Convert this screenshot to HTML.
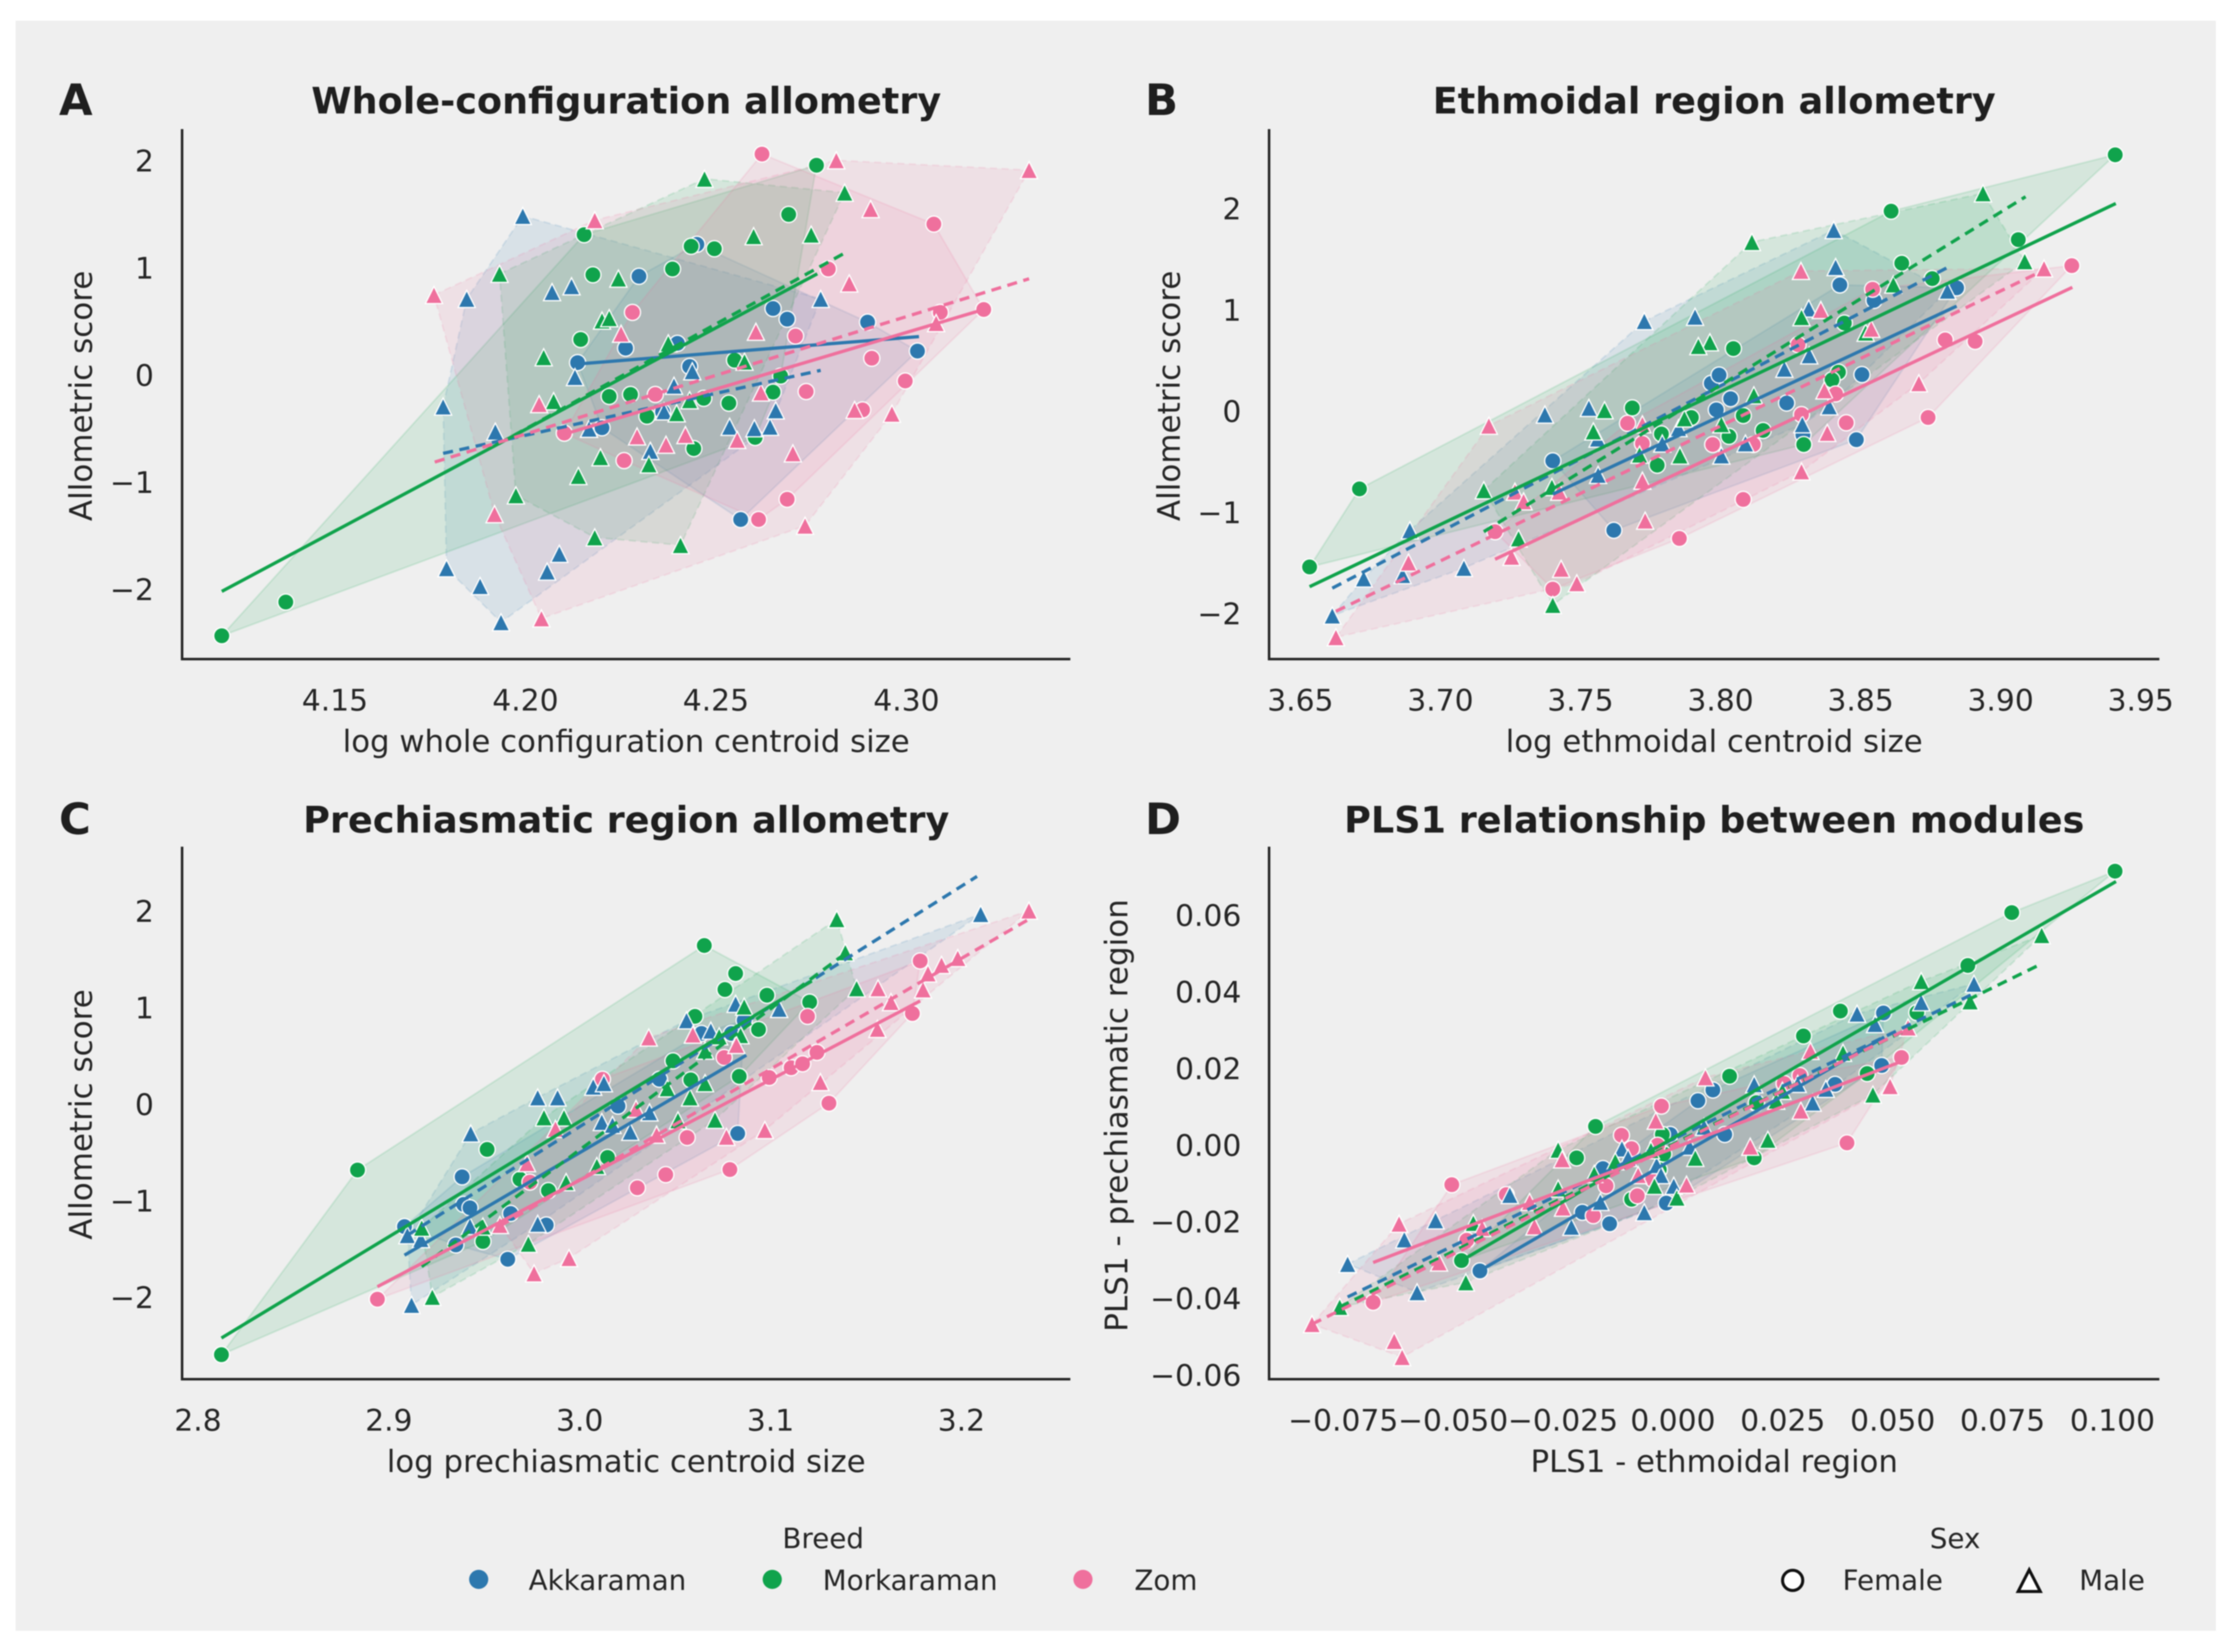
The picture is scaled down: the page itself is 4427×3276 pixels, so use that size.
<!DOCTYPE html>
<html lang="en">
<head>
<meta charset="utf-8">
<title>Allometry figure</title>
<style>
html,body{margin:0;padding:0;background:#fff;width:4427px;height:3276px;overflow:hidden}
svg{display:block;filter:blur(1px)}
text{font-family:"DejaVu Sans","Liberation Sans",sans-serif;fill:#262626}
</style>
</head>
<body>
<svg id="figure" xmlns="http://www.w3.org/2000/svg" width="4427" height="3276" viewBox="0 0 4427 3276">
<rect x="31" y="41" width="4362" height="3193" fill="#efefef"/>
<g id="panels"></g>
<g>
  <text x="1632" y="3070" font-size="55" text-anchor="middle">Breed</text>
  <circle cx="949" cy="3132" r="19" fill="#2d78ae"/>
  <text x="1048" y="3153" font-size="55">Akkaraman</text>
  <circle cx="1531" cy="3132" r="19" fill="#10a34c"/>
  <text x="1631" y="3153" font-size="55">Morkaraman</text>
  <circle cx="2147" cy="3132" r="19" fill="#ef709d"/>
  <text x="2249" y="3153" font-size="55">Zom</text>
</g>
<g>
  <text x="3876" y="3070" font-size="55" text-anchor="middle">Sex</text>
  <circle cx="3554" cy="3134" r="20" fill="#fff" stroke="#111" stroke-width="6"/>
  <text x="3653" y="3153" font-size="55">Female</text>
  <polygon points="4023,3113 4045,3156 4001,3156" fill="#fff" stroke="#111" stroke-width="6"/>
  <text x="4122" y="3153" font-size="55">Male</text>
</g>
</svg>
<script>
/* ---------- Tick labels ---------- */
const a_x_ticks=[4.15,4.20,4.25,4.30];
const a_y_ticks=[-2,-1,0,1,2];
const b_x_ticks=[3.65,3.70,3.75,3.80,3.85,3.90,3.95];
const b_y_ticks=[-2,-1,0,1,2];
const c_x_ticks=[2.8,2.9,3.0,3.1,3.2];
const c_y_ticks=[-2,-1,0,1,2];
const d_x_ticks=[-0.075,-0.05,-0.025,0,0.025,0.05,0.075,0.1];
const d_y_ticks=[-0.06,-0.04,-0.02,0,0.02,0.04,0.06];

/* ---------- Panel A ---------- */
const a_akk_f_x=[4.2137,4.2263,4.2298,4.2399,4.2431,4.2450,4.2360,4.2201,4.2650,4.2687,4.2898,4.3029,4.2565];
const a_akk_f_y=[0.117,0.252,0.923,0.297,0.081,1.221,-0.342,-0.491,0.622,0.523,0.495,0.225,-1.347];
const a_akk_m_x=[4.1993,4.1846,4.2070,4.2121,4.2130,4.1784,4.1921,4.2167,4.2438,4.2390,4.2364,4.2328,4.2536,4.2601,4.2642,4.2657,4.2775,4.1793,4.1881,4.1936,4.2057,4.2089];
const a_akk_m_y=[1.486,0.712,0.775,0.829,-0.018,-0.293,-0.527,-0.50,0.036,-0.099,-0.338,-0.707,-0.482,-0.495,-0.482,-0.329,0.712,-1.802,-1.968,-2.306,-1.833,-1.667];
const a_mor_f_x=[4.1203,4.1371,4.2154,4.2177,4.2145,4.2386,4.2435,4.2496,4.2691,4.2764,4.2220,4.2276,4.2319,4.2468,4.2534,4.2549,4.2670,4.2650,4.2603,4.2442];
const a_mor_f_y=[-2.432,-2.117,1.311,0.937,0.333,0.991,1.203,1.180,1.5,1.959,-0.198,-0.18,-0.383,-0.216,-0.261,0.14,-0.009,-0.158,-0.581,-0.685];
const a_mor_m_x=[4.2470,4.2838,4.1932,4.2244,4.2599,4.2750,4.2201,4.2220,4.2048,4.2375,4.2575,4.2074,4.2397,4.2431,4.2197,4.2324,4.2139,4.1975,4.2182,4.2407];
const a_mor_m_y=[1.833,1.703,0.946,0.901,1.297,1.311,0.509,0.532,0.167,0.297,0.126,-0.243,-0.356,-0.234,-0.766,-0.833,-0.941,-1.122,-1.514,-1.586];
const a_zom_f_x=[4.2621,4.3072,4.2795,4.2281,4.2709,4.3089,4.3203,4.2909,4.2997,4.2737,4.2885,4.2102,4.2341,4.2259,4.2687,4.2612];
const a_zom_f_y=[2.063,1.41,0.991,0.586,0.365,0.586,0.613,0.158,-0.054,-0.153,-0.324,-0.541,-0.18,-0.797,-1.158,-1.347];
const a_zom_m_x=[4.2816,4.3322,4.2906,4.2182,4.2850,4.1760,4.2605,4.2251,4.3078,4.2036,4.2618,4.2864,4.2962,4.2293,4.2420,4.2369,4.2556,4.2702,4.1919,4.2734,4.2042];
const a_zom_m_y=[2.005,1.914,1.55,1.446,0.856,0.748,0.405,0.387,0.486,-0.27,-0.162,-0.324,-0.36,-0.572,-0.559,-0.649,-0.604,-0.73,-1.297,-1.405,-2.27];
const a_akk_f_fit_x=[4.2137,4.3033]; const a_akk_f_fit_y=[0.104,0.36];
const a_akk_m_fit_x=[4.1784,4.2775]; const a_akk_m_fit_y=[-0.73,0.045];
const a_mor_f_fit_x=[4.1203,4.2766]; const a_mor_f_fit_y=[-2.018,0.946];
const a_mor_m_fit_x=[4.193,4.2838];  const a_mor_m_fit_y=[-0.64,1.14];
const a_zom_f_fit_x=[4.2102,4.3203]; const a_zom_f_fit_y=[-0.55,0.613];
const a_zom_m_fit_x=[4.1762,4.3322]; const a_zom_m_fit_y=[-0.811,0.90];

/* ---------- Panel B ---------- */
const b_akk_f_x=[3.7401,3.7619,3.7967,3.7995,3.8036,3.7985,3.8236,3.8426,3.8548,3.8843,3.8505,3.8485,3.8294];
const b_akk_f_y=[-0.49,-1.176,0.276,0.357,0.124,0.014,0.081,1.248,1.095,1.219,0.362,-0.281,-0.233];
const b_akk_m_x=[3.8404,3.8411,3.7728,3.7909,3.8315,3.8228,3.8317,3.7373,3.7530,3.8388,3.7561,3.7792,3.7850,3.8003,3.8089,3.8292,3.7563,3.6891,3.6726,3.6865,3.7084,3.6614,3.8810];
const b_akk_m_y=[1.79,1.424,0.89,0.933,1.014,0.419,0.552,-0.033,0.033,0.048,-0.271,-0.319,-0.167,-0.438,-0.319,-0.129,-0.629,-1.176,-1.652,-1.619,-1.548,-2.019,1.19];
const b_mor_f_x=[3.6533,3.6711,3.9409,3.8609,3.8647,3.9063,3.8756,3.8442,3.8046,3.7685,3.7896,3.8081,3.7789,3.8152,3.8030,3.7774,3.8297,3.8421,3.8398];
const b_mor_f_y=[-1.538,-0.767,2.533,1.976,1.462,1.695,1.31,0.871,0.619,0.033,-0.062,-0.043,-0.224,-0.19,-0.248,-0.533,-0.329,0.386,0.31];
const b_mor_m_x=[3.8937,3.9086,3.8112,3.8289,3.8617,3.7962,3.7921,3.8518,3.8119,3.7586,3.7546,3.7871,3.8003,3.7711,3.7855,3.7398,3.7155,3.7279,3.7401];
const b_mor_m_y=[2.152,1.481,1.671,0.929,1.252,0.681,0.643,0.776,0.157,0.01,-0.2,-0.071,-0.129,-0.429,-0.438,-0.748,-0.781,-1.257,-1.914];
const b_zom_f_x=[3.9254,3.8543,3.8909,3.8802,3.8277,3.8411,3.8289,3.8449,3.8741,3.7668,3.7721,3.7972,3.8117,3.7195,3.8081,3.7853,3.7401];
const b_zom_f_y=[1.438,1.205,0.69,0.705,0.657,0.171,-0.033,-0.114,-0.062,-0.119,-0.319,-0.329,-0.329,-1.19,-0.871,-1.257,-1.757];
const b_zom_m_x=[3.9155,3.8287,3.8358,3.8538,3.8371,3.8708,3.8381,3.7721,3.8289,3.7721,3.7731,3.7266,3.7297,3.7424,3.7173,3.6886,3.7254,3.7431,3.7487,3.6627];
const b_zom_m_y=[1.41,1.386,1.0,0.814,0.205,0.276,-0.214,-0.129,-0.595,-0.686,-1.081,-0.795,-0.89,-0.795,-0.143,-1.495,-1.438,-1.557,-1.7,-2.233];
const b_akk_f_fit_x=[3.7401,3.8843]; const b_akk_f_fit_y=[-0.819,1.038];
const b_akk_m_fit_x=[3.6614,3.881];  const b_akk_m_fit_y=[-1.748,1.419];
const b_mor_f_fit_x=[3.6533,3.9411]; const b_mor_f_fit_y=[-1.733,2.052];
const b_mor_m_fit_x=[3.7155,3.9089]; const b_mor_m_fit_y=[-1.19,2.119];
const b_zom_f_fit_x=[3.7195,3.9256]; const b_zom_f_fit_y=[-1.462,1.224];
const b_zom_m_fit_x=[3.6627,3.9155]; const b_zom_m_fit_y=[-1.976,1.395];

/* ---------- Panel C ---------- */
const c_akk_f_x=[2.9082,2.9384,2.9392,2.9425,2.9638,2.9351,2.9623,2.9825,3.0201,3.0418,3.0862,3.0828,3.0638,3.0795];
const c_akk_f_y=[-1.266,-0.751,-1.036,-1.071,-1.13,-1.456,-1.604,-1.249,-0.018,0.26,0.87,-0.302,0.734,0.734];
const c_akk_m_x=[2.9097,2.9429,2.978,2.9884,2.9425,2.978,3.0071,3.0127,3.0116,3.0172,3.0265,3.0366,3.0560,3.0687,3.0817,3.1045,3.2101,2.9119,2.9168];
const c_akk_m_y=[-1.355,-0.302,0.071,0.071,-1.26,-1.237,0.183,0.219,-0.183,-0.213,-0.284,-0.083,0.87,0.763,1.041,0.988,1.97,-2.077,-1.396];
const c_mor_f_x=[2.8123,2.8836,2.9515,2.9687,2.9493,2.9836,3.0146,3.0489,3.0604,3.0653,3.0761,3.0817,3.0981,3.1205,3.0582,3.0836,3.0937];
const c_mor_f_y=[-2.592,-0.68,-0.467,-0.775,-1.42,-0.893,-0.55,0.45,0.911,1.645,1.189,1.355,1.13,1.059,0.254,0.29,0.775];
const c_mor_m_x=[3.1347,3.1392,3.1451,3.0862,2.9813,2.9918,2.9172,2.9228,2.9493,2.9731,2.9929,3.009,3.0459,3.0578,3.0657,3.0709,3.0731,3.0843,3.0657,3.0515];
const c_mor_m_y=[1.917,1.574,1.201,1.012,-0.136,-0.136,-1.278,-1.994,-1.266,-1.444,-0.805,-0.639,0.166,0.071,0.219,-0.16,0.704,0.716,0.556,-0.166];
const c_zom_f_x=[2.894,2.9739,3.0119,3.0302,3.0451,3.0563,3.0787,3.0757,3.0993,3.1108,3.1168,3.1243,3.1194,3.1306,3.1743,3.1784];
const c_zom_f_y=[-2.018,-0.805,0.26,-0.864,-0.728,-0.343,-0.675,0.485,0.278,0.379,0.42,0.538,0.911,0.012,0.941,1.485];
const c_zom_m_x=[3.2354,3.1981,3.1896,3.1825,3.1799,3.1631,3.1563,3.156,3.1261,3.097,3.0769,3.0403,2.9944,2.9761,2.9582,2.9724,2.9873,3.0295,3.0362,3.0593,3.0821];
const c_zom_m_y=[2.006,1.515,1.444,1.355,1.189,1.059,1.201,0.781,0.231,-0.266,-0.337,-0.314,-1.592,-1.751,-1.249,-0.609,-0.254,-0.047,0.692,0.722,0.615];
const c_akk_f_fit_x=[2.9082,3.0873]; const c_akk_f_fit_y=[-1.562,0.509];
const c_akk_m_fit_x=[2.9097,3.2082]; const c_akk_m_fit_y=[-1.355,2.361];
const c_mor_f_fit_x=[2.8123,3.1216]; const c_mor_f_fit_y=[-2.42,1.278];
const c_mor_m_fit_x=[2.9172,3.1392]; const c_mor_m_fit_y=[-1.68,1.562];
const c_zom_f_fit_x=[2.894,3.1784];  const c_zom_f_fit_y=[-1.888,1.071];
const c_zom_m_fit_x=[2.9582,3.2354]; const c_zom_m_fit_y=[-1.26,1.917];

/* ---------- Panel D ---------- */
const d_akk_f_x=[-0.0439,-0.0144,-0.0206,-0.0015,-0.0159,-0.0006,0.0118,0.0057,0.0091,0.019,0.0369,0.0475,0.0479];
const d_akk_f_y=[-0.0328,-0.0205,-0.0175,-0.0151,-0.0061,0.0028,0.0028,0.0116,0.0144,0.0109,0.0159,0.0208,0.0345];
const d_akk_m_x=[-0.074,-0.0611,-0.0582,-0.054,-0.0371,-0.0231,-0.0165,-0.0116,-0.0102,-0.0037,-0.0027,-0.0065,0.0002,0.0038,0.0071,0.0185,0.0284,0.0318,0.0348,0.046,0.0419,0.0565,0.0685];
const d_akk_m_y=[-0.031,-0.0246,-0.0384,-0.0196,-0.013,-0.0213,-0.0148,-0.0009,-0.0033,-0.0052,-0.0078,-0.0175,-0.0106,-0.0004,0.0048,0.0159,0.016,0.0111,0.0147,0.0316,0.0343,0.0373,0.0421];
const d_mor_f_x=[-0.0481,-0.0219,-0.0176,-0.0024,0.0129,0.0442,0.0185,0.019,0.0381,0.0297,0.0555,0.0671,0.0771,0.1006,-0.0094,-0.0031,-0.0021];
const d_mor_f_y=[-0.0301,-0.0033,0.0049,0.0028,0.018,0.0187,-0.0033,0.0111,0.035,0.0285,0.0346,0.0469,0.0607,0.0715,-0.0141,-0.0064,-0.0023];
const d_mor_m_x=[-0.0758,-0.0471,-0.0261,-0.0454,-0.0261,-0.0179,-0.0131,-0.005,-0.0042,0.0009,0.0051,0.0216,0.0249,0.0235,0.0387,0.0455,0.0565,0.0676,0.0839];
const d_mor_m_y=[-0.0422,-0.0358,-0.0012,-0.0203,-0.0113,-0.0075,-0.0042,-0.0013,-0.0106,-0.0137,-0.0033,0.0014,0.0142,0.0116,0.0241,0.0132,0.0428,0.0375,0.0548];
const d_zom_f_x=[-0.0682,-0.0503,-0.0379,-0.0469,-0.0181,-0.0152,-0.0094,-0.0117,-0.0026,-0.0081,-0.0046,-0.0035,0.0253,0.0289,0.0396,0.052];
const d_zom_f_y=[-0.041,-0.0103,-0.0129,-0.0248,-0.0184,-0.0106,-0.0009,0.0026,0.0102,-0.0132,-0.0089,0.0,0.0161,0.0182,0.0006,0.0229];
const d_zom_m_x=[-0.0821,-0.0623,-0.0634,-0.0616,-0.0532,-0.0434,-0.0326,-0.0315,-0.025,-0.0252,-0.0079,-0.0039,0.0031,0.0074,0.0176,0.0291,0.0313,0.0494,0.0535];
const d_zom_m_y=[-0.0467,-0.0205,-0.0511,-0.0553,-0.0306,-0.0216,-0.0148,-0.0212,-0.0163,-0.0037,-0.0078,0.0064,-0.0103,0.0177,-0.0004,0.009,0.0246,0.0154,0.0307];
const d_akk_f_fit_x=[-0.044,0.0481];  const d_akk_f_fit_y=[-0.0328,0.0282];
const d_akk_m_fit_x=[-0.074,0.0685];  const d_akk_m_fit_y=[-0.0396,0.0396];
const d_mor_f_fit_x=[-0.0481,0.1008]; const d_mor_f_fit_y=[-0.0301,0.0688];
const d_mor_m_fit_x=[-0.0758,0.0831]; const d_mor_m_fit_y=[-0.0422,0.0469];
const d_zom_f_fit_x=[-0.0682,0.0521]; const d_zom_f_fit_y=[-0.0306,0.0219];
const d_zom_m_fit_x=[-0.0821,0.0535]; const d_zom_m_fit_y=[-0.0467,0.0304];

/* ---------- Styling ---------- */
const breedColor={akk:'#2d78ae',mor:'#10a34c',zom:'#ef709d'};
const breedWord={akk:'akkaraman',mor:'morkaraman',zom:'zom'};
const sexWord={f:'female',m:'male'};

function series(breed,sex,x,y,fx,fy){return {breed:breed,sex:sex,x:x,y:y,fx:fx,fy:fy};}

const panels=[
 {key:'a',letter:'A',title:'Whole-configuration allometry',xLabel:'log whole configuration centroid size',yLabel:'Allometric score',
  left:361,right:2122,top:256,bottom:1307,lx:117,titleY:225,
  xCal:[4.15,4.30,664,1797],yCal:[-2,2,1169,319],xTicks:a_x_ticks,yTicks:a_y_ticks,xFmt:2,yFmt:0,yTickX:305,yTitleX:182,yTitleC:785,
  groups:[series('akk','f',a_akk_f_x,a_akk_f_y,a_akk_f_fit_x,a_akk_f_fit_y),series('akk','m',a_akk_m_x,a_akk_m_y,a_akk_m_fit_x,a_akk_m_fit_y),
          series('mor','f',a_mor_f_x,a_mor_f_y,a_mor_f_fit_x,a_mor_f_fit_y),series('mor','m',a_mor_m_x,a_mor_m_y,a_mor_m_fit_x,a_mor_m_fit_y),
          series('zom','f',a_zom_f_x,a_zom_f_y,a_zom_f_fit_x,a_zom_f_fit_y),series('zom','m',a_zom_m_x,a_zom_m_y,a_zom_m_fit_x,a_zom_m_fit_y)]},
 {key:'b',letter:'B',title:'Ethmoidal region allometry',xLabel:'log ethmoidal centroid size',yLabel:'Allometric score',
  left:2516,right:4281,top:256,bottom:1307,lx:2270,titleY:225,
  xCal:[3.65,3.95,2578,4244],yCal:[-2,2,1217,414],xTicks:b_x_ticks,yTicks:b_y_ticks,xFmt:2,yFmt:0,yTickX:2461,yTitleX:2339,yTitleC:785,
  groups:[series('akk','f',b_akk_f_x,b_akk_f_y,b_akk_f_fit_x,b_akk_f_fit_y),series('akk','m',b_akk_m_x,b_akk_m_y,b_akk_m_fit_x,b_akk_m_fit_y),
          series('mor','f',b_mor_f_x,b_mor_f_y,b_mor_f_fit_x,b_mor_f_fit_y),series('mor','m',b_mor_m_x,b_mor_m_y,b_mor_m_fit_x,b_mor_m_fit_y),
          series('zom','f',b_zom_f_x,b_zom_f_y,b_zom_f_fit_x,b_zom_f_fit_y),series('zom','m',b_zom_m_x,b_zom_m_y,b_zom_m_fit_x,b_zom_m_fit_y)]},
 {key:'c',letter:'C',title:'Prechiasmatic region allometry',xLabel:'log prechiasmatic centroid size',yLabel:'Allometric score',
  left:361,right:2122,top:1679,bottom:2735,lx:117,titleY:1651,
  xCal:[2.8,3.2,392.5,1906],yCal:[-2,2,2573,1807],xTicks:c_x_ticks,yTicks:c_y_ticks,xFmt:1,yFmt:0,yTickX:305,yTitleX:182,yTitleC:2210,
  groups:[series('akk','f',c_akk_f_x,c_akk_f_y,c_akk_f_fit_x,c_akk_f_fit_y),series('akk','m',c_akk_m_x,c_akk_m_y,c_akk_m_fit_x,c_akk_m_fit_y),
          series('mor','f',c_mor_f_x,c_mor_f_y,c_mor_f_fit_x,c_mor_f_fit_y),series('mor','m',c_mor_m_x,c_mor_m_y,c_mor_m_fit_x,c_mor_m_fit_y),
          series('zom','f',c_zom_f_x,c_zom_f_y,c_zom_f_fit_x,c_zom_f_fit_y),series('zom','m',c_zom_m_x,c_zom_m_y,c_zom_m_fit_x,c_zom_m_fit_y)]},
 {key:'d',letter:'D',title:'PLS1 relationship between modules',xLabel:'PLS1 - ethmoidal region',yLabel:'PLS1 - prechiasmatic region',
  left:2516,right:4281,top:1679,bottom:2735,lx:2270,titleY:1651,
  xCal:[-0.075,0.1,2663,4188],yCal:[-0.06,0.06,2727,1815],xTicks:d_x_ticks,yTicks:d_y_ticks,xFmt:3,yFmt:2,yTickX:2461,yTitleX:2235,yTitleC:2212,
  groups:[series('akk','f',d_akk_f_x,d_akk_f_y,d_akk_f_fit_x,d_akk_f_fit_y),series('akk','m',d_akk_m_x,d_akk_m_y,d_akk_m_fit_x,d_akk_m_fit_y),
          series('mor','f',d_mor_f_x,d_mor_f_y,d_mor_f_fit_x,d_mor_f_fit_y),series('mor','m',d_mor_m_x,d_mor_m_y,d_mor_m_fit_x,d_mor_m_fit_y),
          series('zom','f',d_zom_f_x,d_zom_f_y,d_zom_f_fit_x,d_zom_f_fit_y),series('zom','m',d_zom_m_x,d_zom_m_y,d_zom_m_fit_x,d_zom_m_fit_y)]}
];

const NS='http://www.w3.org/2000/svg';
const CIRCLE_R=16, TRI_HALF=17;

function make(tag,parent){
  const el=document.createElementNS(NS,tag);
  parent.appendChild(el);
  return el;
}
function linearScale(cal){
  const k=(cal[3]-cal[2])/(cal[1]-cal[0]);
  return function(v){return cal[2]+(v-cal[0])*k;};
}
function fmtTick(v,d){
  const s=Math.abs(v).toFixed(d);
  return (v<0?'\u2212':'')+s;
}
function convexHull(pts){
  const p=pts.slice().sort(function(a,b){return a[0]-b[0]||a[1]-b[1];});
  function cross(o,a,b){return (a[0]-o[0])*(b[1]-o[1])-(a[1]-o[1])*(b[0]-o[0]);}
  const lo=[],up=[];
  for(const q of p){while(lo.length>1&&cross(lo[lo.length-2],lo[lo.length-1],q)<=0)lo.pop();lo.push(q);}
  for(const q of p.slice().reverse()){while(up.length>1&&cross(up[up.length-2],up[up.length-1],q)<=0)up.pop();up.push(q);}
  lo.pop();up.pop();
  return lo.concat(up);
}

const root=document.getElementById('panels');
for(const P of panels){
  const sx=linearScale(P.xCal), sy=linearScale(P.yCal);
  const g=make('g',root);
  
  

  /* hulls */
  for(const s of P.groups){
    const pts=s.x.map(function(v,i){return [sx(v),sy(s.y[i])];});
    const hull=make('polygon',g);
    
    
    hull.setAttribute('points',convexHull(pts).map(function(q){return q[0].toFixed(1)+','+q[1].toFixed(1);}).join(' '));
    hull.setAttribute('fill',breedColor[s.breed]);
    hull.setAttribute('fill-opacity','0.115');
    hull.setAttribute('stroke',breedColor[s.breed]);
    hull.setAttribute('stroke-opacity','0.13');
    hull.setAttribute('stroke-width','3.5');
    if(s.sex==='m')hull.setAttribute('stroke-dasharray','14 9');
  }
  /* female markers */
  for(const s of P.groups){
    if(s.sex!=='f')continue;
    s.x.forEach(function(v,i){
      const c=make('circle',g);
      
      
      c.setAttribute('cx',sx(v).toFixed(1));
      c.setAttribute('cy',sy(s.y[i]).toFixed(1));
      c.setAttribute('r',CIRCLE_R);
      c.setAttribute('fill',breedColor[s.breed]);
      c.setAttribute('stroke','#fff');
      c.setAttribute('stroke-width','2.5');
    });
  }
  /* male markers */
  for(const s of P.groups){
    if(s.sex!=='m')continue;
    s.x.forEach(function(v,i){
      const cx=sx(v), cy=sy(s.y[i]);
      const t=make('polygon',g);
      
      
      t.setAttribute('points',[cx,cy-TRI_HALF,cx+TRI_HALF,cy+TRI_HALF,cx-TRI_HALF,cy+TRI_HALF].map(function(n){return n.toFixed(1);}).join(' '));
      t.setAttribute('fill',breedColor[s.breed]);
      t.setAttribute('stroke','#fff');
      t.setAttribute('stroke-width','2.5');
    });
  }
  /* fit lines */
  for(const s of P.groups){
    const l=make('line',g);
    
    
    l.setAttribute('x1',sx(s.fx[0]).toFixed(1));
    l.setAttribute('y1',sy(s.fy[0]).toFixed(1));
    l.setAttribute('x2',sx(s.fx[1]).toFixed(1));
    l.setAttribute('y2',sy(s.fy[1]).toFixed(1));
    l.setAttribute('stroke',breedColor[s.breed]);
    l.setAttribute('stroke-width','6.5');
    if(s.sex==='m')l.setAttribute('stroke-dasharray','20 13');
  }
  /* spines */
  const ySpine=make('line',g);
  
  
  ySpine.setAttribute('x1',P.left);ySpine.setAttribute('x2',P.left);
  ySpine.setAttribute('y1',P.top);ySpine.setAttribute('y2',P.bottom+2.5);
  ySpine.setAttribute('stroke','#262626');ySpine.setAttribute('stroke-width','5');
  const xSpine=make('line',g);
  
  
  xSpine.setAttribute('x1',P.left);xSpine.setAttribute('x2',P.right);
  xSpine.setAttribute('y1',P.bottom);xSpine.setAttribute('y2',P.bottom);
  xSpine.setAttribute('stroke','#262626');xSpine.setAttribute('stroke-width','5');
  /* ticks */
  for(const v of P.xTicks){
    const t=make('text',g);
    
    
    t.setAttribute('x',sx(v).toFixed(1));
    t.setAttribute('y',P.bottom+102);
    t.setAttribute('font-size','59');
    t.setAttribute('text-anchor','middle');
    t.textContent=fmtTick(v,P.xFmt);
  }
  for(const v of P.yTicks){
    const t=make('text',g);
    
    
    t.setAttribute('x',P.yTickX);
    t.setAttribute('y',(sy(v)+21).toFixed(1));
    t.setAttribute('font-size','59');
    t.setAttribute('text-anchor','end');
    t.textContent=fmtTick(v,P.yFmt);
  }
  /* labels */
  const xt=make('text',g);
  
  
  xt.setAttribute('x',(P.left+P.right)/2);
  xt.setAttribute('y',P.bottom+184);
  xt.setAttribute('font-size','61');
  xt.setAttribute('text-anchor','middle');
  xt.textContent=P.xLabel;
  const yt=make('text',g);
  
  
  yt.setAttribute('transform','translate('+P.yTitleX+','+P.yTitleC+') rotate(-90)');
  yt.setAttribute('font-size','61.5');
  yt.setAttribute('text-anchor','middle');
  yt.textContent=P.yLabel;
  const tt=make('text',g);
  
  
  tt.setAttribute('x',(P.left+P.right)/2);
  tt.setAttribute('y',P.titleY);
  tt.setAttribute('font-size','72.5');
  tt.setAttribute('font-weight','700');
  tt.setAttribute('text-anchor','middle');
  tt.style.fill='#1f1f1f';
  tt.textContent=P.title;
  const lt=make('text',g);
  
  
  lt.setAttribute('x',P.lx);
  lt.setAttribute('y',P.titleY+3);
  lt.setAttribute('font-size','86');
  lt.setAttribute('font-weight','700');
  lt.style.fill='#1f1f1f';
  lt.textContent=P.letter;
}
</script>
</body>
</html>
